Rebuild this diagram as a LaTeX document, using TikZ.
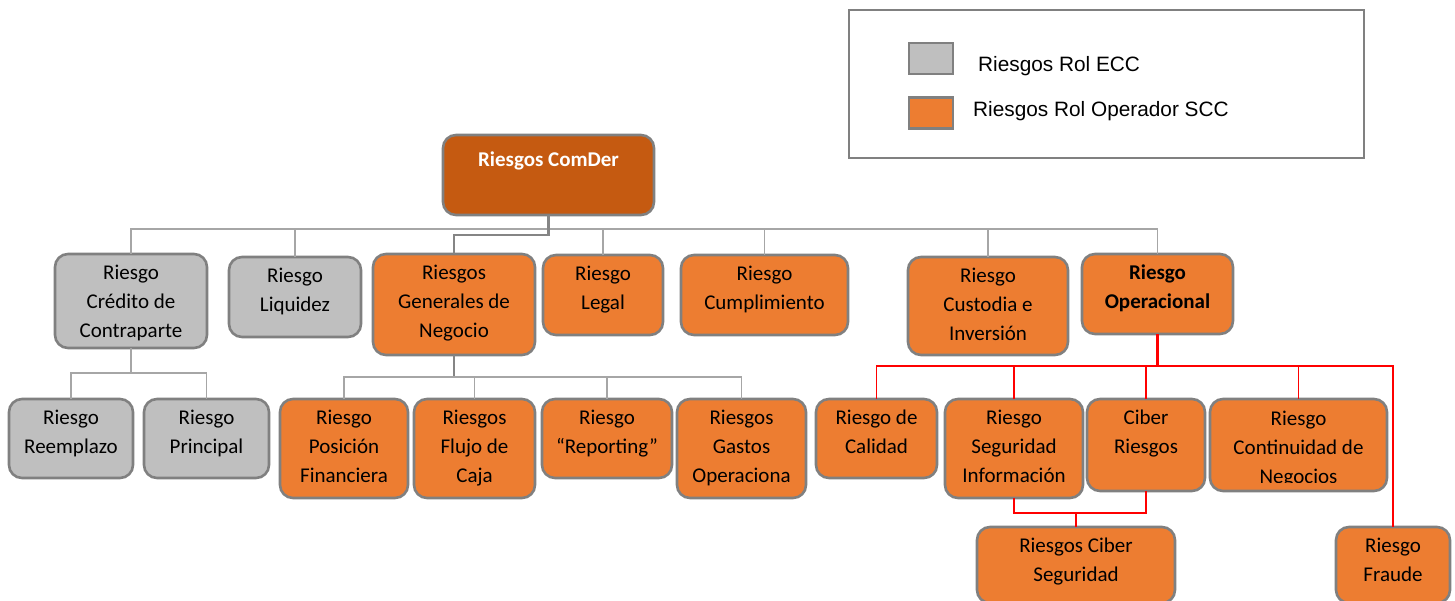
\documentclass[tikz,border=0pt]{standalone}
\usepackage{fontspec}
\setmainfont{Carlito}
\newfontfamily\legfont{Liberation Sans}
\definecolor{boxline}{HTML}{808080}
\definecolor{boxgray}{HTML}{BFBFBF}
\definecolor{boxorange}{HTML}{ED7D31}
\definecolor{rootfill}{HTML}{C55A11}
\definecolor{linegray}{HTML}{A6A6A6}
\definecolor{thickgray}{HTML}{858585}
\definecolor{linered}{HTML}{FF0000}
\tikzset{
  rbox/.style={draw=boxline, line width=2.6pt, rounded corners=13pt, inner sep=0pt, outer sep=0pt, rectangle},
  gbox/.style={rbox, fill=boxgray},
  obox/.style={rbox, fill=boxorange},
  rootbox/.style={rbox, fill=rootfill},
  txt/.style={inner sep=0pt, outer sep=0pt, font=\fontsize{21}{29}\selectfont, anchor=base},
  gline/.style={draw=linegray, line width=1.5pt},
  tline/.style={draw=thickgray, line width=2.8pt},
  rline/.style={draw=linered, line width=1.5pt},
  trline/.style={draw=linered, line width=2.6pt},
  legbox/.style={draw=boxline, line width=2.6pt, inner sep=0pt, outer sep=0pt, rectangle},
  swatch/.style={draw=boxline, line width=2.6pt, inner sep=0pt, outer sep=0pt, rectangle, minimum width=44pt, minimum height=31pt},
  legtxt/.style={inner sep=0pt, font=\legfont\fontsize{20.8}{25}\selectfont, anchor=base west},
}
\setlength{\tabcolsep}{0pt}
% box: name, left, top, right, bottom, style
\newcommand\mkbox[6]{\node[#6, minimum width={#4-#2}, minimum height={#5-#3}] (#1) at ({(#2+#4)/2},{(#3+#5)/2}) {};}
% text inside box, first baseline 25.5 below top
\newcommand\mktext[3][]{\node[txt,#1] (#2-t) at ([yshift=-25.5pt]#2.north) {\begin{tabular}[t]{c}#3\end{tabular}};}
\begin{document}
\begin{tikzpicture}[x=1pt,y=-1pt]
\useasboundingbox (0,0) rectangle (1455,600);

\coordinate (busA) at (0,229);
\coordinate (busG) at (0,235);
\coordinate (busC) at (0,373);
\coordinate (busN) at (0,377);
\coordinate (busR) at (0,366);
\coordinate (busS) at (0,513);

% ---------- boxes ----------
\mkbox{root}{443}{135}{654}{215}{rootbox}
\mkbox{cred}{55}{254}{207}{348}{gbox}
\mkbox{liq}{229}{257}{361}{337}{gbox}
\mkbox{gen}{373}{254}{535}{355}{obox}
\mkbox{legal}{543}{255}{663}{335}{obox}
\mkbox{cump}{681}{255}{848}{335}{obox}
\mkbox{cust}{908}{257}{1068}{355}{obox}
\mkbox{oper}{1082}{254}{1233}{334}{obox}
\mkbox{reem}{9}{399}{133}{478}{gbox}
\mkbox{princ}{144}{399}{269}{478}{gbox}
\mkbox{pos}{280}{399}{408}{498}{obox}
\mkbox{flujo}{414}{399}{535}{498}{obox}
\mkbox{rep}{542}{399}{672}{478}{obox}
\mkbox{gastos}{677}{399}{806}{498}{obox}
\mkbox{cal}{816}{399}{937}{478}{obox}
\mkbox{seg}{945}{399}{1083}{498}{obox}
\mkbox{ciber}{1087}{399}{1205}{491}{obox}
\mkbox{cont}{1210}{399}{1387}{491}{obox}
\mkbox{cibseg}{977}{527}{1175}{603}{obox}
\mkbox{fraude}{1336}{527}{1450}{603}{obox}

% ---------- connectors ----------
\path[gline] (cred.north) |- (oper.north |- busA) -- (oper.north);
\path[gline] (liq.north) -- (liq.north |- busA);
\path[gline] (legal.north) -- (legal.north |- busA);
\path[gline] (cump.north) -- (cump.north |- busA);
\path[gline] (cust.north) -- (cust.north |- busA);
\path[tline] (root.south) -- (root.south |- busG) -| (gen.north);

\path[gline] (cred.south) -- (cred.south |- busC);
\path[gline] (reem.north) |- (princ.north |- busC) -- (princ.north);

\path[tline] (gen.south) -- (gen.south |- busN);
\path[gline] (pos.north) |- (gastos.north |- busN) -- (gastos.north);
\path[gline] (flujo.north) -- (flujo.north |- busN);
\path[gline] (rep.north) -- (rep.north |- busN);

\path[trline] (oper.south) -- (oper.south |- busR);
\path[rline] (cal.north) |- (fraude.north |- busR) -- (fraude.north);
\path[rline] (seg.north) -- (seg.north |- busR);
\path[rline] (ciber.north) -- (ciber.north |- busR);
\path[rline] (cont.north) -- (cont.north |- busR);

\path[rline] (seg.south) |- (ciber.south |- busS) -- (ciber.south);
\path[rline] (cibseg.north) -- (cibseg.north |- busS);

% ---------- texts ----------
\node[txt, text=white, font=\fontsize{21}{29}\selectfont\bfseries] (root-t) at ([yshift=-31pt]root.north) {Riesgos ComDer};
\mktext{cred}{Riesgo\\Crédito de\\Contraparte}
\mktext{liq}{Riesgo\\Liquidez}
\mktext{gen}{Riesgos\\Generales de\\Negocio}
\mktext{legal}{Riesgo\\Legal}
\mktext{cump}{Riesgo\\Cumplimiento}
\mktext{cust}{Riesgo\\Custodia e\\Inversión}
\mktext[font=\fontsize{21}{29}\selectfont\bfseries]{oper}{Riesgo\\Operacional}
\mktext{reem}{Riesgo\\Reemplazo}
\mktext{princ}{Riesgo\\Principal}
\mktext{pos}{Riesgo\\Posición\\Financiera}
\mktext{flujo}{Riesgos\\Flujo de\\Caja}
\mktext{rep}{Riesgo\\“Reporting”}
\mktext{gastos}{Riesgos\\Gastos\\Operaciona}
\mktext{cal}{Riesgo de\\Calidad}
\mktext{seg}{Riesgo\\Seguridad\\Información}
\mktext{ciber}{Ciber\\Riesgos}
\begin{scope}
\clip (1212,401) rectangle (1385,482);
\node[txt] (cont-t) at ([yshift=-26.5pt]cont.north) {\begin{tabular}[t]{c}Riesgo\\Continuidad de\\Negocios\end{tabular}};
\end{scope}
\mktext{cibseg}{Riesgos Ciber\\Seguridad}
\mktext{fraude}{Riesgo\\Fraude}

% ---------- legend ----------
\node[legbox, minimum width=515, minimum height=148] (leg) at (1106.5,84) {};
\node[swatch, fill=boxgray] (swg) at (931,58.5) {};
\node[swatch, fill=boxorange] (swo) at (931,113) {};
\node[legtxt] (leg-g) at (978,71) {Riesgos Rol ECC};
\node[legtxt] (leg-o) at (973,116) {Riesgos Rol Operador SCC};
\end{tikzpicture}
\end{document}
